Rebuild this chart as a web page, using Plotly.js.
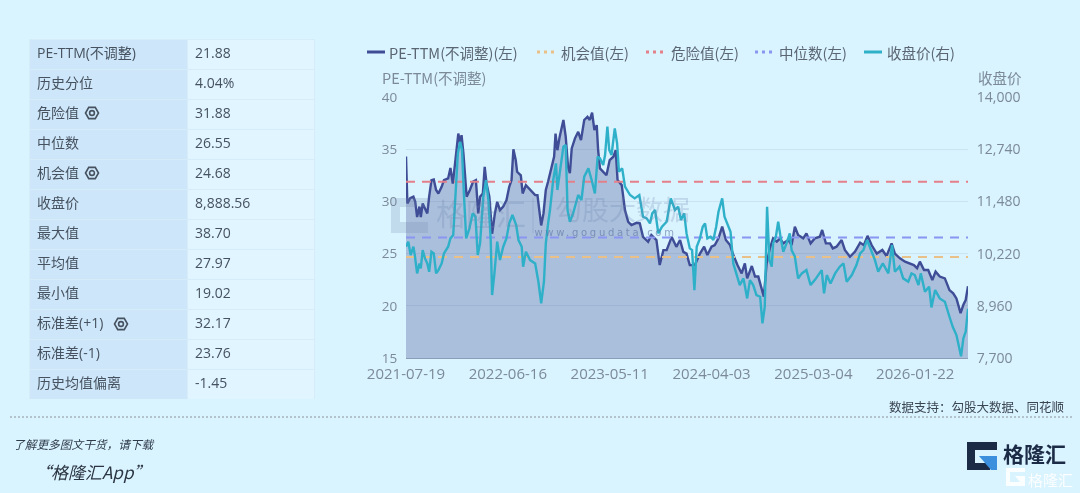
<!DOCTYPE html>
<html><head><meta charset="utf-8">
<script src="https://cdn.plot.ly/plotly-3.0.1.min.js"></script>
<style>html,body{margin:0;padding:0;background:#d9f3ff;overflow:hidden}#c{width:1080px;height:493px;filter:blur(0.45px)}
.annotation[data-index="9"] text{letter-spacing:2.7px}</style>
</head><body><div id="c"></div>
<script>
const tickDays=[0,220,440,660,880,1100];
const tickLabels=['2021-07-19','2022-06-16','2023-05-11','2024-04-03','2025-03-04','2026-01-22'];
const lastDay=1214;
const peDays=[0,3,9,16,20,24,29,32,36,41,46,50,55,60,65,70,77,82,91,96,101,106,109,113,117,120,124,127,131,138,145,151,156,160,166,170,174,180,186,192,197,203,210,217,223,228,232,237,240,248,252,259,268,279,284,288,292,297,302,307,314,320,323,327,332,340,345,350,354,358,365,372,378,385,392,397,402,407,412,415,419,426,433,440,448,453,457,466,473,480,487,498,505,512,523,530,541,548,556,563,574,584,592,599,606,613,624,635,644,651,660,667,675,683,691,700,707,716,725,732,737,747,754,761,768,773,779,786,793,801,808,815,826,833,840,847,858,865,874,883,894,899,907,916,922,930,941,948,959,970,981,989,997,1006,1017,1029,1038,1049,1056,1067,1078,1089,1097,1104,1110,1119,1128,1137,1144,1153,1164,1174,1182,1189,1198,1204,1209,1214];
const peValues=[34.3,29.8,30.3,30.45,29.96,28.5,29.5,28.5,29.8,29.3,28.85,30.45,32.04,32.1,31.1,30.76,31.4,32.04,32.2,33.2,31.7,33.64,35.08,36.5,35.56,36.35,34.6,32.5,30.45,31.1,31.9,32.04,28.85,30.45,30.76,33.3,31.7,30.45,26.9,28.85,29.96,29.16,29.5,30.1,31.4,32.04,35,33.96,32.84,32.5,30.76,31.56,31.1,30.6,30.6,28.85,27.7,28.85,31.1,31.9,33.3,34.3,36.5,34.9,36.2,37.8,36.2,33.3,32.7,35.08,36.04,36.67,35.87,37.8,38.1,37.8,38.5,36.83,37.3,34.9,33.16,32.84,32.5,33.96,34.28,34.92,32.04,31.56,29.16,28.05,27.73,27.95,27.9,26.6,26.13,26.77,26.3,23.9,25.33,25.33,26.6,25.65,26.3,25.17,25,23.9,23.9,25,25.66,24.86,25.66,25.82,26.46,27.58,26.3,25.82,24.86,23.9,23.1,24.06,22.63,23.81,22.8,22.8,21.5,20.87,24.06,25.5,26.46,26.14,26.46,25.98,26.3,25.82,27.58,26.78,26.46,26.94,25.98,26.46,26.62,27.26,25.98,25.98,25.5,25.66,26.3,25.35,24.7,25.2,26.05,25.8,26.7,25.8,25,25.35,24.77,25.98,25,24.55,24.23,24.07,23.9,23.6,24.23,23.43,23.43,22.47,23.27,22.8,22.63,21.5,21.2,20.7,19.3,20.1,20.55,21.88];
const closeDays=[0,5,10,16,19,24,29,32,36,41,46,50,55,60,65,70,77,82,91,96,102,108,112,117,121,125,130,137,144,150,155,160,167,173,178,183,186,191,197,203,210,217,223,230,238,243,250,253,259,268,279,286,292,298,302,307,311,318,324,327,332,340,345,349,354,361,372,379,385,394,401,408,414,419,426,430,435,439,444,451,456,460,467,473,484,494,504,512,520,527,532,538,545,553,563,572,581,588,594,601,606,613,618,623,628,635,641,646,651,658,664,670,675,678,683,688,694,701,707,714,721,729,737,743,750,757,765,770,775,780,785,790,793,799,804,809,815,822,829,833,840,847,855,865,874,883,891,898,903,909,917,927,937,945,952,963,973,981,988,996,1006,1013,1020,1030,1042,1050,1056,1066,1074,1085,1092,1099,1107,1112,1121,1130,1135,1143,1153,1164,1174,1181,1189,1199,1204,1209,1214];
const closeValues=[10386,10507,10185,10386,10185,9742,9983,9863,10305,10104,9983,9782,10265,10225,9742,9822,9983,10225,10386,10587,10668,11835,12640,12922,12720,11674,10587,10829,11191,11110,10185,10467,11594,11996,11513,10547,9219,9742,10507,10064,10386,10587,10949,11151,10909,10547,10386,9903,10265,10064,9983,9541,9018,9541,10467,10950,11272,11996,12398,11755,12157,12801,12841,11272,10990,11191,11634,11513,12076,12278,11996,11674,12560,12519,12358,12600,13284,12720,12600,13244,12882,12197,12278,11835,11634,11553,11634,11110,11070,10949,11191,11272,10708,10869,10990,11553,11272,11352,11030,11191,10708,10346,10305,9339,10386,10587,10869,10950,10587,10627,10547,10869,11231,11352,11553,11110,10950,10748,9983,9702,9460,9621,9138,9581,9460,9219,9178,8534,8937,11352,10064,9903,10466,10627,10990,10627,10265,10466,10708,10305,10145,9621,9742,9822,9460,9581,9702,9822,9259,9702,9500,9742,9904,9984,9541,9702,9944,10226,10306,10547,10266,10064,9783,9984,9743,10427,9783,9904,9622,9541,9743,9702,9461,9743,9300,9420,8921,9340,9139,9058,8696,8454,8253,7740,8173,8334,8888.56];
const levelDays=[0,lastDay];
const chanceValues=[24.68,24.68];
const dangerValues=[31.88,31.88];
const medianValues=[26.55,26.55];
const tableLabels=['PE-TTM(不调整)','历史分位','危险值','中位数','机会值','收盘价','最大值','平均值','最小值','标准差(+1)','标准差(-1)','历史均值偏离'];
const tableValues=['21.88','4.04%','31.88','26.55','24.68','8,888.56','38.70','27.97','19.02','32.17','23.76','-1.45'];
const legendNames=['PE-TTM(不调整)(左)','机会值(左)','危险值(左)','中位数(左)','收盘价(右)'];

const W=1080,H=493;
const px=x=>x/W, py=y=>1-y/H;
const FONT='"Open Sans","Noto Sans CJK SC",sans-serif';
const CJK='"Noto Sans CJK SC",sans-serif';
const GRAY='#7c8a98',DARK='#46525f';
const C={pe:'#3f4c96',close:'#2fb0c9',chance:'#e9c088',danger:'#e3808a',median:'#8a96f2'};

const traces=[
 {type:'table',domain:{x:[px(29),px(314)],y:[py(399),py(39)]},columnwidth:[158,127],
  header:{values:[tableLabels[0],tableValues[0]],height:30,align:'left',font:{family:FONT,size:14,color:DARK},
   fill:{color:['#cde6f9','#e0f5ff']},line:{color:'#d6ecf8',width:1}},
  cells:{values:[tableLabels.slice(1),tableValues.slice(1)],height:30,align:'left',font:{family:FONT,size:14,color:DARK},
   fill:{color:['#cde6f9','#e0f5ff']},line:{color:'#d6ecf8',width:1}}},
 {type:'scatter',mode:'lines',x:peDays,y:peValues,name:legendNames[0],line:{color:C.pe,width:2.4},fill:'tozeroy',fillcolor:'rgba(72,84,150,0.33)',hoverinfo:'skip'},
 {type:'scatter',mode:'lines',x:levelDays,y:chanceValues,name:legendNames[1],line:{color:C.chance,width:2,dash:'9px,7px'},hoverinfo:'skip'},
 {type:'scatter',mode:'lines',x:levelDays,y:dangerValues,name:legendNames[2],line:{color:C.danger,width:2,dash:'9px,7px'},hoverinfo:'skip'},
 {type:'scatter',mode:'lines',x:levelDays,y:medianValues,name:legendNames[3],line:{color:C.median,width:2,dash:'9px,7px'},hoverinfo:'skip'},
 {type:'scatter',mode:'lines',x:closeDays,y:closeValues,yaxis:'y2',name:legendNames[4],line:{color:C.close,width:2.4},hoverinfo:'skip'}
];

function txt(x,y,text,size,color,opt){return Object.assign({xref:'paper',yref:'paper',x:px(x),y:py(y),text:text,showarrow:false,xanchor:'left',yanchor:'middle',font:{family:CJK,size:size,color:color}},opt||{});}
function path(d,opt){
  const s=d.replace(/(-?[\d.]+),(-?[\d.]+)/g,(m,a,b)=>px(+a)+','+py(+b));
  return Object.assign({type:'path',xref:'paper',yref:'paper',path:s,line:{width:0}},opt||{});
}
function gear(cx,cy){
  const r=6.5,h=r*0.866,q=r/2;
  return [
   path(`M${cx-q},${cy-h} L${cx+q},${cy-h} L${cx+r},${cy} L${cx+q},${cy+h} L${cx-q},${cy+h} L${cx-r},${cy} Z`,{line:{color:DARK,width:1.6}}),
   {type:'circle',xref:'paper',yref:'paper',x0:px(cx-2.4),x1:px(cx+2.4),y0:py(cy+2.4),y1:py(cy-2.4),line:{color:DARK,width:1.6}}
  ];
}
function lg(x0,x1,y,color,dotted){return {type:'line',xref:'paper',yref:'paper',x0:px(x0),x1:px(x1),y0:py(y),y1:py(y),line:{color:color,width:3,dash:dotted?'3px,4px':'solid'}};}

const shapes=[
 lg(367,385,52,C.pe,false),lg(537,555,52,C.chance,true),lg(646,665,52,C.danger,true),lg(755,773,52,C.median,true),lg(864,882,52,C.close,false),
 {type:'line',xref:'paper',yref:'paper',x0:px(10),x1:px(1072),y0:py(417),y1:py(417),line:{color:'#8a9299',width:1,dash:'2px,2px'}},
 ...gear(92,113),...gear(92,173),...gear(121,324),
 path('M967,442 L997,442 L997,450 L975,450 L975,462 L967,470 Z',{fillcolor:'#1b2a45'}),
 path('M967,462 L975,462 L975,463 L990,463 L990,470 L967,470 Z',{fillcolor:'#1b2a45'}),
 path('M979,456 L997,456 L997,470 L991,470 Z',{fillcolor:'#3c8fdc'}),
 path('M1006,468 L1025,468 L1025,472 L1010,472 L1010,482 L1025,482 L1025,486 L1006,486 Z',{fillcolor:'rgba(255,255,255,0.85)'}),
 path('M1015,476 L1025,476 L1025,482 L1020,482 Z',{fillcolor:'rgba(255,255,255,0.85)'}),
 path('M391,198 L428,198 L428,207 L400,207 L400,222 L428,222 L428,233 L391,233 Z',{fillcolor:'rgba(110,130,170,0.22)'}),
 {type:'line',xref:'paper',yref:'paper',x0:px(533),x1:px(533),y0:py(198),y1:py(233),line:{color:'rgba(110,130,170,0.25)',width:1}}
];

const annotations=[
 txt(387,52,legendNames[0],14.5,'#5a6672'),txt(559,52,legendNames[1],14.5,'#5a6672'),txt(669,52,legendNames[2],14.5,'#5a6672'),txt(777,52,legendNames[3],14.5,'#5a6672'),txt(885,52,legendNames[4],14.5,'#5a6672'),
 txt(380,77,'PE-TTM(不调整)',14.5,GRAY),txt(976,77,'收盘价',14.5,GRAY),
 txt(434,212,'格隆汇',30,'rgba(110,130,170,0.25)'),
 txt(553,208,'勾股大数据',27,'rgba(110,130,170,0.25)'),
 txt(554,232,'www.gogudata.com',10,'rgba(90,110,160,0.6)',{font:{family:'"DejaVu Sans",sans-serif',size:10,color:'rgba(90,110,160,0.6)'}}),
 txt(887,406,'数据支持：勾股大数据、同花顺',12.5,'#3a4652'),
 txt(11,443,'<i>了解更多图文干货，请下载</i>',11.7,'#2f3b48'),
 txt(32,471,'<i>“格隆汇App”</i>',17,'#2b3541'),
 txt(1001,453,'<b>格隆汇</b>',21,'#1b2a45'),
 txt(1026,479,'格隆汇',15,'rgba(255,255,255,0.9)')
];

const layout={width:W,height:H,margin:{l:0,r:0,t:0,b:0},paper_bgcolor:'#d9f3ff',plot_bgcolor:'rgba(0,0,0,0)',showlegend:false,
 font:{family:FONT,size:14,color:GRAY},
 xaxis:{domain:[px(406),px(968)],range:[0,lastDay],tickmode:'array',tickvals:tickDays,ticktext:tickLabels,showgrid:false,zeroline:false,showline:true,linecolor:'#8c9dba',linewidth:1,ticks:'outside',ticklen:2,tickcolor:'rgba(0,0,0,0)',tickfont:{family:FONT,size:15,color:GRAY},fixedrange:true},
 yaxis:{domain:[py(358),py(97)],range:[15,40],dtick:5,tick0:15,showgrid:true,gridcolor:'rgba(150,170,195,0.22)',gridwidth:1,zeroline:false,showline:false,ticks:'outside',ticklen:5,tickcolor:'rgba(0,0,0,0)',tickfont:{family:FONT,size:13.5,color:GRAY},fixedrange:true},
 yaxis2:{overlaying:'y',side:'right',range:[7700,14000],tick0:7700,dtick:1260,tickformat:',d',showgrid:false,zeroline:false,showline:false,ticks:'outside',ticklen:5,tickcolor:'rgba(0,0,0,0)',tickfont:{family:FONT,size:14,color:GRAY},fixedrange:true},
 shapes:shapes,annotations:annotations};
Plotly.newPlot('c',traces,layout,{displayModeBar:false,staticPlot:true});
</script></body></html>
